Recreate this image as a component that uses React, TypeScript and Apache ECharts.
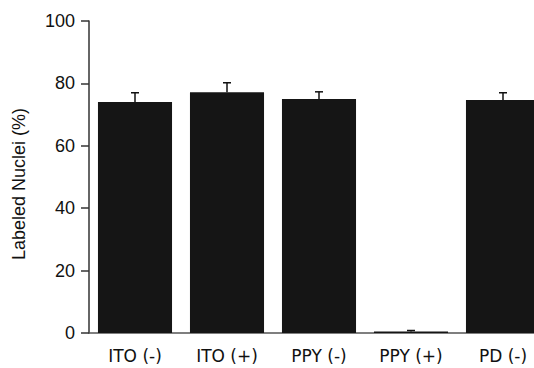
import React, { useEffect, useRef } from "react";
import * as echarts from "echarts";

const categories = ["ITO (-)", "ITO (+)", "PPY (-)", "PPY (+)", "PD (-)"];
const values = [74, 77.2, 75, 0.5, 74.7];
const errors = [3, 3, 2.3, 0.3, 2.3];
const yTicks = [0, 20, 40, 60, 80, 100];
const yTitle = "Labeled Nuclei (%)";

export default function App() {
  const ref = useRef<HTMLDivElement>(null);
  useEffect(() => {
    document.body.style.margin = "0";
    const chart = echarts.init(ref.current!, null, { renderer: "svg" });
    const font = "'Liberation Sans', Arial, sans-serif";
    chart.setOption({
      animation: false,
      backgroundColor: "#ffffff",
      grid: { left: 89, top: 21, bottom: 35, right: 0 },
      graphic: [
        {
          type: "text",
          x: 19,
          y: 184,
          rotation: Math.PI / 2,
          style: {
            text: yTitle,
            fill: "#111",
            font: `18px ${font}`,
            align: "center",
            verticalAlign: "middle",
          },
        },
      ],
      xAxis: {
        type: "category",
        data: categories,
        axisLine: { lineStyle: { color: "#555", width: 1.5 } },
        axisTick: { show: false },
        axisLabel: { color: "#111", fontSize: 17, fontFamily: "'DejaVu Sans', sans-serif", margin: 14 },
      },
      yAxis: {
        type: "value",
        min: yTicks[0],
        max: yTicks[yTicks.length - 1],
        interval: 20,
        axisLine: { show: true, lineStyle: { color: "#333", width: 1.5 } },
        axisTick: { show: true, length: 8, lineStyle: { color: "#333", width: 1.5 } },
        splitLine: { show: false },
        axisLabel: { color: "#111", fontSize: 18, fontFamily: font, margin: 14 },
      },
      series: [
        {
          type: "bar",
          data: values,
          barCategoryGap: "19.5%",
          itemStyle: { color: "#151515" },
        },
        {
          type: "custom",
          data: values.map((v, i) => [i, v, errors[i]]),
          z: 3,
          renderItem: (params: any, api: any) => {
            const i = api.value(0);
            const v = api.value(1);
            const e = api.value(2);
            const base = api.coord([i, v]);
            const top = api.coord([i, v + e]);
            const hw = 4;
            const style = { stroke: "#111", lineWidth: 1.5 };
            return {
              type: "group",
              children: [
                { type: "line", shape: { x1: base[0], y1: base[1], x2: top[0], y2: top[1] }, style },
                { type: "line", shape: { x1: top[0] - hw, y1: top[1], x2: top[0] + hw, y2: top[1] }, style },
              ],
            };
          },
        },
      ],
    });
    return () => chart.dispose();
  }, []);
  return (
    <div style={{ width: 534, height: 368, overflow: "hidden", position: "relative" }}>
      <div ref={ref} style={{ width: 549, height: 368 }} />
    </div>
  );
}
